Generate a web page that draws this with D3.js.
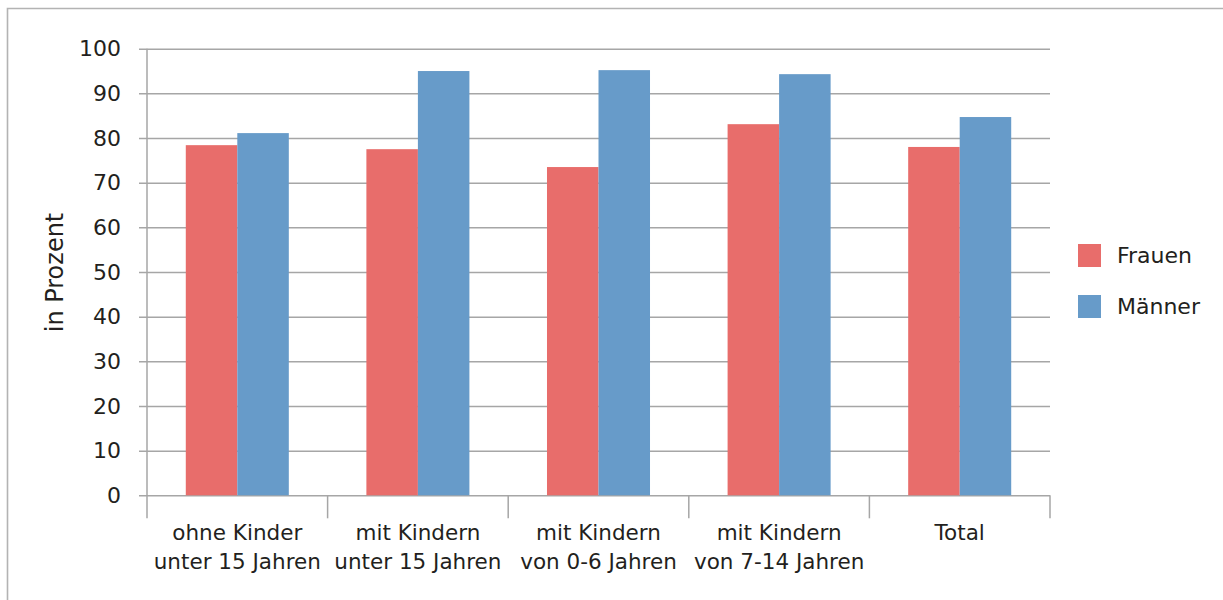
<!DOCTYPE html>
<html>
<head>
<meta charset="utf-8">
<script src="https://cdn.jsdelivr.net/npm/d3@7"></script>
<style>
  html, body { margin: 0; padding: 0; background: #fff; }
  svg { display: block; }
  text { font-family: "DejaVu Sans", sans-serif; fill: #231f20; }
</style>
</head>
<body>
<svg id="chart" width="1223" height="600"></svg>
<script>
// Erwerbsquote nach Familiensituation
const categories = [
  ["ohne Kinder", "unter 15 Jahren"],
  ["mit Kindern", "unter 15 Jahren"],
  ["mit Kindern", "von 0-6 Jahren"],
  ["mit Kindern", "von 7-14 Jahren"],
  ["Total"]
];
const seriesNames = ["Frauen", "Männer"];
const frauen = [78.4, 77.5, 73.5, 83.1, 78.0];
const maenner = [81.1, 95.0, 95.2, 94.3, 84.7];
const yTicks = [0, 10, 20, 30, 40, 50, 60, 70, 80, 90, 100];
const colors = ["#e86d6b", "#679bc9"];

const svg = d3.select("#chart");
const plot = { left: 147, right: 1050, top: 48.7, bottom: 495.3 };

// outer frame
svg.append("path")
  .attr("d", "M7.5,600 V8.5 H1223")
  .attr("fill", "none")
  .attr("stroke", "#b3b3b3")
  .attr("stroke-width", 1.6);

const catKeys = categories.map(d => d.join(" "));
const x0 = d3.scaleBand().domain(catKeys).range([plot.left, plot.right]).padding(0);
const x1 = d3.scaleBand().domain(seriesNames).range([0, x0.bandwidth()])
  .paddingInner(0).paddingOuter(0.753);
const y = d3.scaleLinear().domain([0, 100]).range([plot.bottom, plot.top]);

// y axis with gridlines
const yAxis = svg.append("g")
  .attr("transform", `translate(${plot.left},0)`)
  .call(d3.axisLeft(y).tickValues(yTicks).tickSize(0).tickPadding(26));
yAxis.select(".domain").remove();
yAxis.selectAll(".tick line")
  .attr("x1", -8).attr("x2", plot.right - plot.left)
  .attr("stroke", "#a6a6a6").attr("stroke-width", 1.5);
yAxis.selectAll(".tick text")
  .style("font-size", "22px")
  .style("font-family", "'DejaVu Sans', sans-serif")
  .attr("fill", "#231f20");

// vertical axis line
svg.append("line")
  .attr("x1", plot.left).attr("x2", plot.left)
  .attr("y1", y(100)).attr("y2", y(0))
  .attr("stroke", "#a6a6a6").attr("stroke-width", 1.5);

// category separator ticks
const bounds = catKeys.map(k => x0(k)).concat([plot.right]);
svg.append("g").selectAll("line").data(bounds).join("line")
  .attr("x1", d => d).attr("x2", d => d)
  .attr("y1", y(0)).attr("y2", y(0) + 23)
  .attr("stroke", "#a6a6a6").attr("stroke-width", 1.5);

// bars
const rows = catKeys.map((k, i) => ({ key: k, values: [frauen[i], maenner[i]] }));
const groups = svg.append("g").selectAll("g").data(rows).join("g")
  .attr("transform", d => `translate(${x0(d.key)},0)`);
groups.selectAll("rect")
  .data(d => d.values.map((v, j) => ({ name: seriesNames[j], value: v, color: colors[j] })))
  .join("rect")
  .attr("x", d => x1(d.name))
  .attr("width", x1.bandwidth())
  .attr("y", d => y(d.value))
  .attr("height", d => y(0) - y(d.value))
  .attr("fill", d => d.color);

// category labels
const labels = svg.append("g").selectAll("text").data(categories).join("text")
  .attr("x", (d, i) => x0(catKeys[i]) + x0.bandwidth() / 2)
  .attr("y", 540)
  .attr("text-anchor", "middle")
  .style("font-size", "21.5px");
labels.selectAll("tspan").data(d => d).join("tspan")
  .attr("x", function () { return d3.select(this.parentNode).attr("x"); })
  .attr("dy", (d, i) => i === 0 ? 0 : 29)
  .text(d => d);

// y axis title
svg.append("text")
  .attr("transform", "translate(63,272.5) rotate(-90)")
  .attr("text-anchor", "middle")
  .style("font-size", "24px")
  .text("in Prozent");

// legend
const legend = svg.append("g").selectAll("g").data(seriesNames).join("g")
  .attr("transform", (d, i) => `translate(1078,${244 + i * 51})`);
legend.append("rect")
  .attr("width", 23).attr("height", 23)
  .attr("fill", (d, i) => colors[i]);
legend.append("text")
  .attr("x", 39).attr("y", 19)
  .style("font-size", "22px")
  .text(d => d);
</script>
</body>
</html>
